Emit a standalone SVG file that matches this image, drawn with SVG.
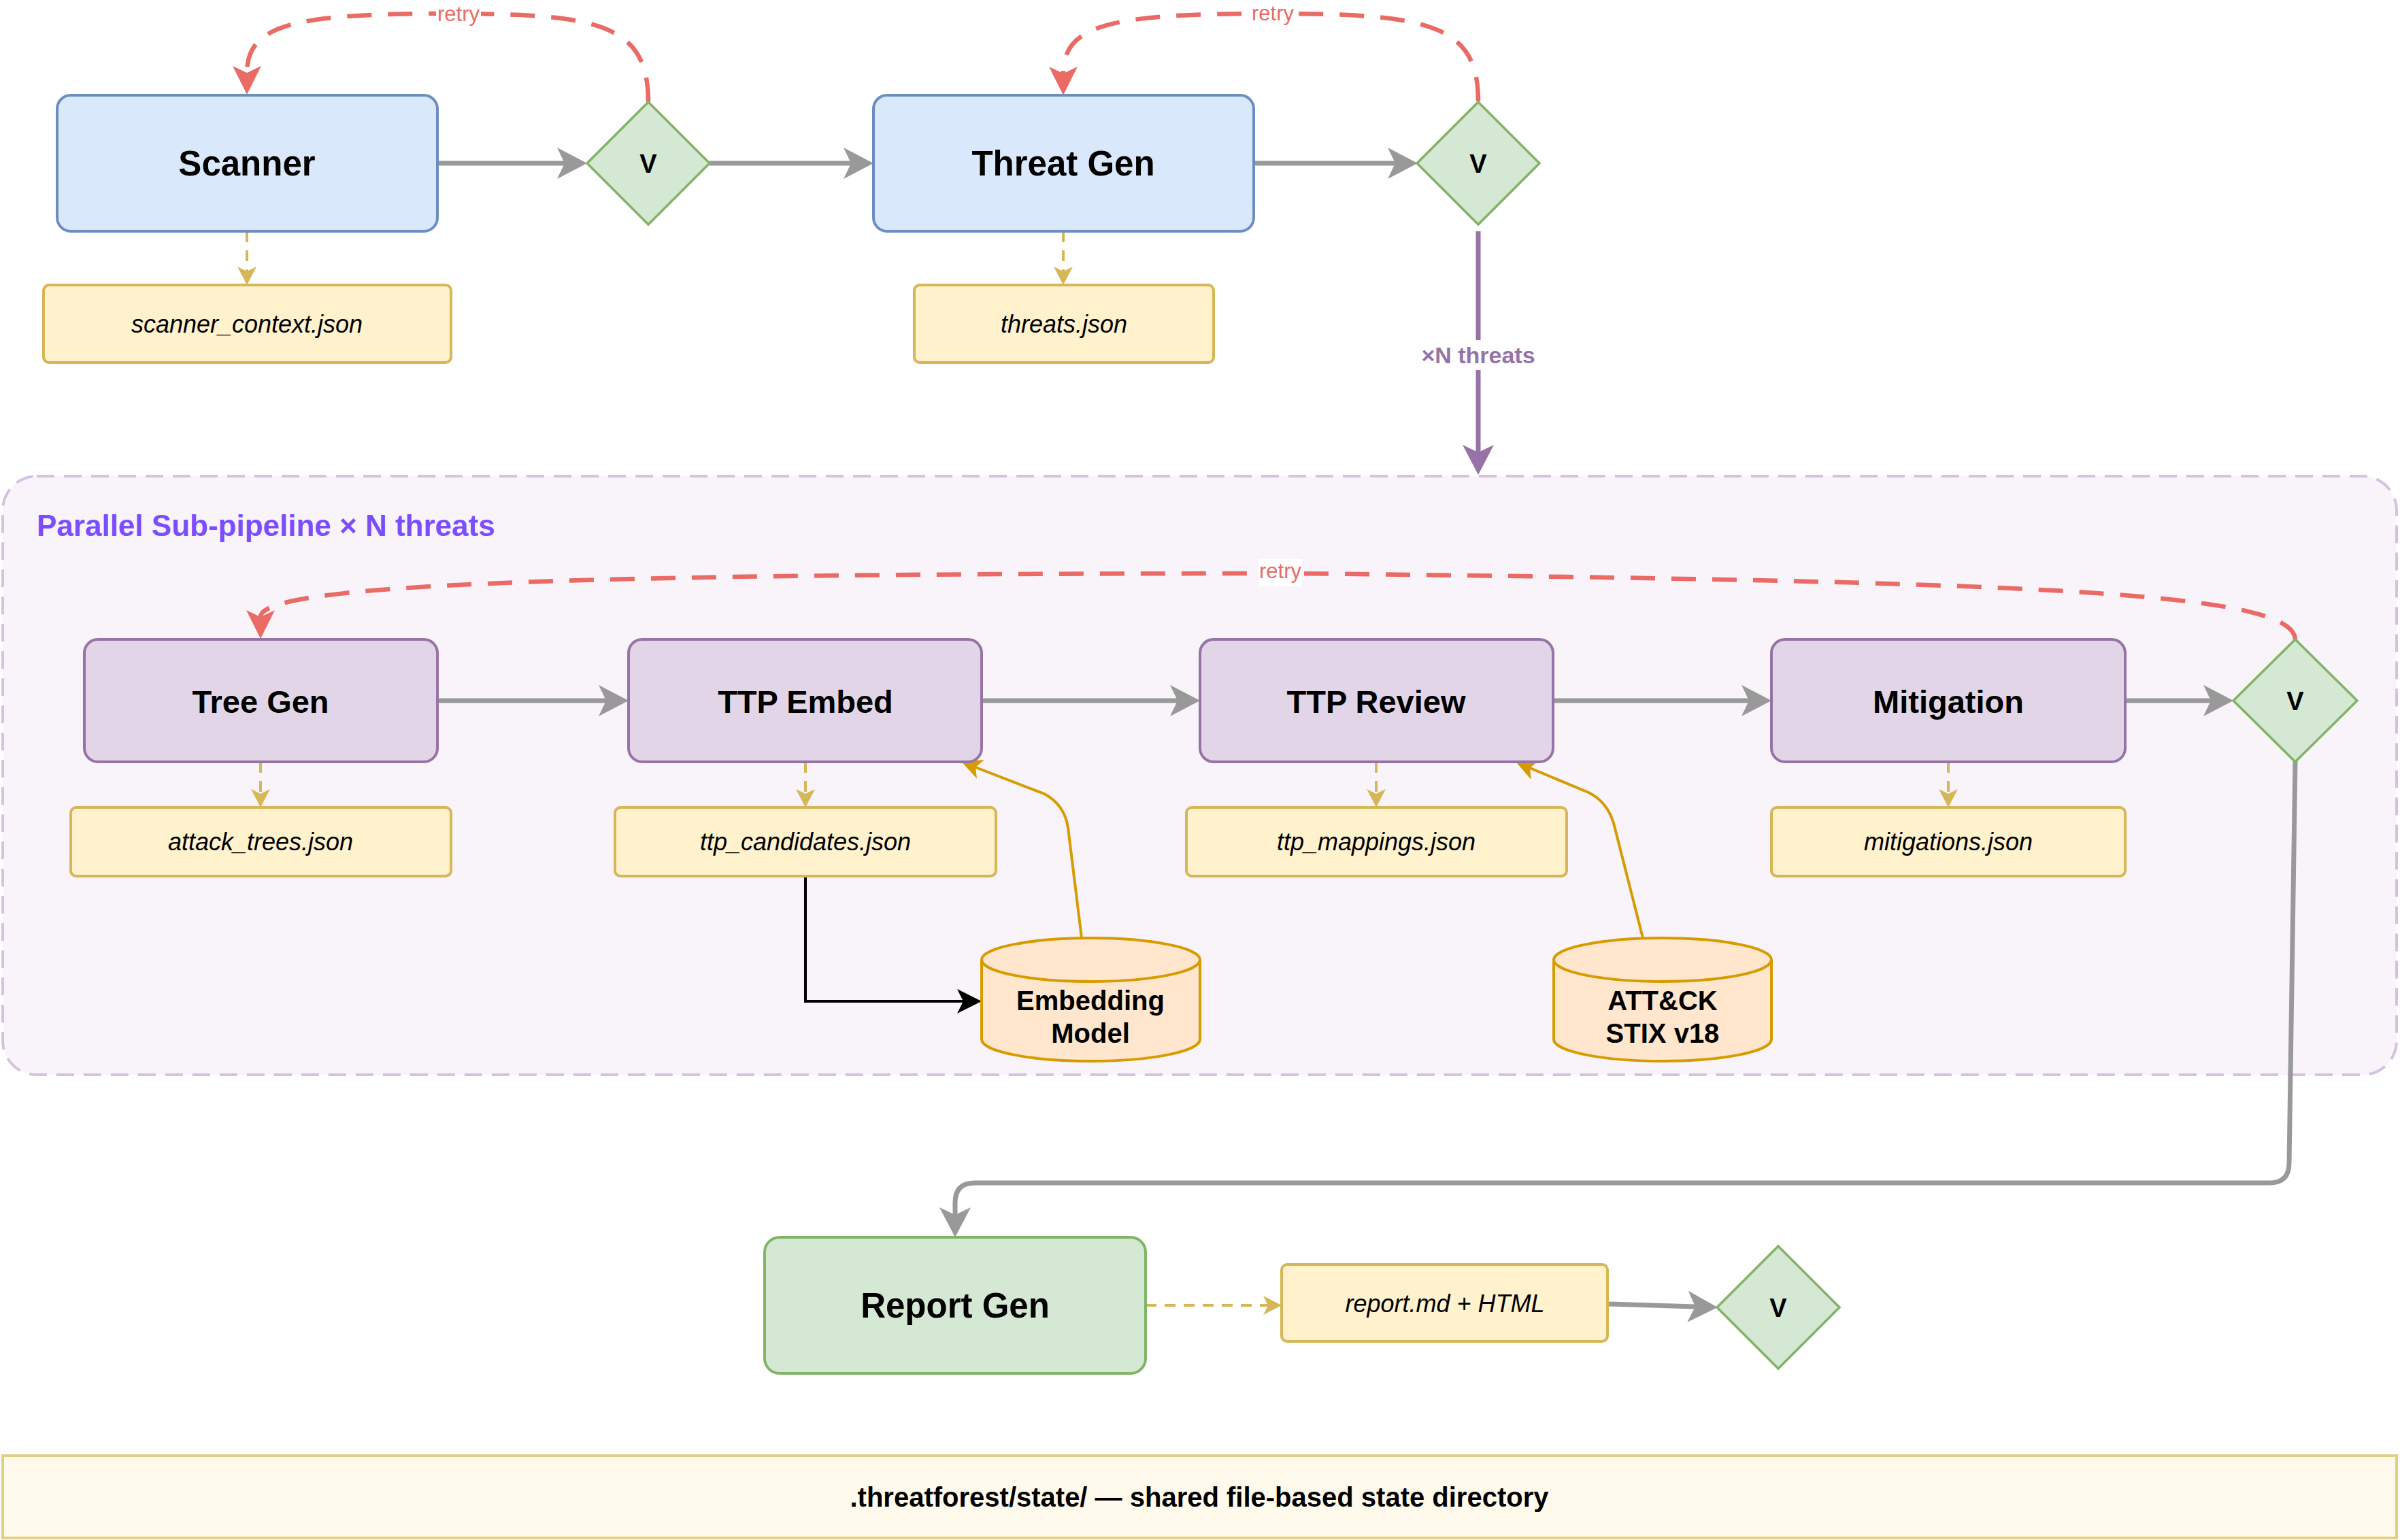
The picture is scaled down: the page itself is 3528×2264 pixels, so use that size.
<svg xmlns="http://www.w3.org/2000/svg" width="3528" height="2264" viewBox="0 0 3528 2264">
<style>
text{font-family:"Liberation Sans",Arial,Helvetica,sans-serif;text-anchor:middle;fill:#000}
.blue{fill:#dae8fc;stroke:#6c8ebf;stroke-width:4}
.purp{fill:#e1d5e7;stroke:#9673a6;stroke-width:4}
.file{fill:#fff2cc;stroke:#d6b656;stroke-width:4}
.green{fill:#d5e8d4;stroke:#82b366;stroke-width:4}
.dia{fill:#d5e8d4;stroke:#82b366;stroke-width:3.5}
.cyl{fill:#ffe6cc;stroke:#d79b00;stroke-width:4}
.big{font-size:51px;font-weight:bold}
.mid{font-size:47px;font-weight:bold}
.v{font-size:38px;font-weight:bold}
.fn{font-size:36px;font-style:italic}
.db{font-size:40px;font-weight:bold}
.retry{font-size:31px;fill:#ea6b66}
.gray{fill:none;stroke:#999999;stroke-width:7}
.red{fill:none;stroke:#ea6b66;stroke-width:6.5;stroke-dasharray:36 24}
.yel{fill:none;stroke:#d6b656;stroke-width:4;stroke-dasharray:16 12}
.org{fill:none;stroke:#d79b00;stroke-width:4}
</style>
<defs>
<marker id="ag" markerUnits="userSpaceOnUse" markerWidth="44" markerHeight="46" viewBox="0 0 44 46" refX="11" refY="23" orient="auto"><path d="M0,0 L44,23 L0,46 L11,23 z" fill="#999999"/></marker>
<marker id="ap" markerUnits="userSpaceOnUse" markerWidth="44" markerHeight="46" viewBox="0 0 44 46" refX="11" refY="23" orient="auto"><path d="M0,0 L44,23 L0,46 L11,23 z" fill="#9673a6"/></marker>
<marker id="ar" markerUnits="userSpaceOnUse" markerWidth="42" markerHeight="42" viewBox="0 0 42 42" refX="10" refY="21" orient="auto"><path d="M0,0 L42,21 L0,42 L10,21 z" fill="#ea6b66"/></marker>
<marker id="ay" markerUnits="userSpaceOnUse" markerWidth="27" markerHeight="28" viewBox="0 0 27 28" refX="7" refY="14" orient="auto"><path d="M0,0 L27,14 L0,28 L7,14 z" fill="#d6b656"/></marker>
<marker id="ab" markerUnits="userSpaceOnUse" markerWidth="36" markerHeight="36" viewBox="0 0 36 36" refX="9" refY="18" orient="auto"><path d="M0,0 L36,18 L0,36 L9,18 z" fill="#000000"/></marker>
<marker id="ao" markerUnits="userSpaceOnUse" markerWidth="30" markerHeight="30" viewBox="0 0 30 30" refX="8" refY="15" orient="auto"><path d="M0,0 L30,15 L0,30 L8,15 z" fill="#d79b00"/></marker>
</defs>
<rect width="3528" height="2264" fill="#ffffff"/>

<g id="container">
<rect x="4" y="700" width="3519" height="880" rx="50" fill="#f8f4fa" stroke="#d5c2e0" stroke-width="4" stroke-dasharray="26 14"/>
<text x="54" y="788" style="font-size:44px;font-weight:bold;fill:#7c4dff;text-anchor:start">Parallel Sub-pipeline × N threats</text>
</g>

<g id="state-bar">
<rect x="4" y="2140" width="3519" height="121" fill="#fffaeb" stroke="#e2cf85" stroke-width="4"/>
<text x="1763" y="2215" class="db">.threatforest/state/ — shared file-based state directory</text>
</g>

<g id="connectors">
<path class="gray" d="M643 240 L830 240" marker-end="url(#ag)"/>
<path class="gray" d="M1043 240 L1251 240" marker-end="url(#ag)"/>
<path class="gray" d="M1843 240 L2051 240" marker-end="url(#ag)"/>
<path fill="none" stroke="#9673a6" stroke-width="7" d="M2173 340 L2173 665" marker-end="url(#ap)"/>
<path class="red" d="M953 150 C953 35 880 20 658 20 C436 20 363 35 363 107" marker-end="url(#ar)"/>
<path class="red" d="M2173 149 C2173 35 2100 20 1868 20 C1636 20 1563 35 1563 108" marker-end="url(#ar)"/>
<path class="yel" d="M363 340 L363 399" marker-end="url(#ay)"/>
<path class="yel" d="M1563 340 L1563 399" marker-end="url(#ay)"/>
<path class="gray" d="M643 1030 L891 1030" marker-end="url(#ag)"/>
<path class="gray" d="M1443 1030 L1731 1030" marker-end="url(#ag)"/>
<path class="gray" d="M2283 1030 L2571 1030" marker-end="url(#ag)"/>
<path class="gray" d="M3124 1030 L3250 1030" marker-end="url(#ag)"/>
<path class="yel" d="M383 1120 L383 1167" marker-end="url(#ay)"/>
<path class="yel" d="M1184 1120 L1184 1167" marker-end="url(#ay)"/>
<path class="yel" d="M2023 1120 L2023 1167" marker-end="url(#ay)"/>
<path class="yel" d="M2864 1120 L2864 1167" marker-end="url(#ay)"/>
<path class="red" d="M3374 941 C3374 870 3000 855 1900 843 C800 843 383 860 383 907" marker-end="url(#ar)"/>
<path fill="none" stroke="#000000" stroke-width="4" d="M1184 1288 L1184 1472 L1416 1472" marker-end="url(#ab)"/>
<path class="org" d="M1590 1379 L1570 1217 Q1565 1183 1535 1167 L1434 1128" marker-end="url(#ao)"/>
<path class="org" d="M2415 1379 L2372 1210 Q2362 1178 2335 1165 L2249 1129" marker-end="url(#ao)"/>
<path class="gray" d="M3374 1119 L3365 1710 Q3365 1739 3336 1739 L1433 1739 Q1404 1739 1404 1768 L1404 1786" marker-end="url(#ag)"/>
<path class="yel" d="M1684 1919 L1864 1919" marker-end="url(#ay)"/>
<path class="gray" d="M2365 1917 L2492 1921" marker-end="url(#ag)"/>
<rect x="2085" y="500" width="176" height="44" fill="#ffffff"/>
<text x="2173" y="534" style="font-size:34px;font-weight:bold;fill:#9673a6">×N threats</text>
<rect x="641" y="4" width="66" height="36" fill="#ffffff"/>
<text x="674" y="31" class="retry">retry</text>
<rect x="1838" y="4" width="66" height="36" fill="#ffffff"/>
<text x="1871" y="30" class="retry">retry</text>
<rect x="1850" y="822" width="64" height="40" fill="#ffffff"/>
<text x="1882" y="850" class="retry">retry</text>
</g>

<g id="scanner"><rect class="blue" x="84" y="140" width="559" height="200" rx="20"/><text x="363" y="258" class="big">Scanner</text></g>
<g id="v1"><polygon class="dia" points="953,150 1043,240 953,330 863,240"/><text x="953" y="254" class="v">V</text></g>
<g id="threat-gen"><rect class="blue" x="1284" y="140" width="559" height="200" rx="20"/><text x="1563" y="258" class="big">Threat Gen</text></g>
<g id="v2"><polygon class="dia" points="2173,150 2263,240 2173,330 2083,240"/><text x="2173" y="254" class="v">V</text></g>
<g id="scanner-context"><rect class="file" x="64" y="419" width="599" height="114" rx="8"/><text x="363" y="489" class="fn">scanner_context.json</text></g>
<g id="threats-json"><rect class="file" x="1344" y="419" width="440" height="114" rx="8"/><text x="1564" y="489" class="fn">threats.json</text></g>

<g id="tree-gen"><rect class="purp" x="124" y="940" width="519" height="180" rx="20"/><text x="383" y="1048" class="mid">Tree Gen</text></g>
<g id="ttp-embed"><rect class="purp" x="924" y="940" width="519" height="180" rx="20"/><text x="1184" y="1048" class="mid">TTP Embed</text></g>
<g id="ttp-review"><rect class="purp" x="1764" y="940" width="519" height="180" rx="20"/><text x="2023" y="1048" class="mid">TTP Review</text></g>
<g id="mitigation"><rect class="purp" x="2604" y="940" width="520" height="180" rx="20"/><text x="2864" y="1048" class="mid">Mitigation</text></g>
<g id="v3"><polygon class="dia" points="3374,940 3465,1030 3374,1120 3283,1030"/><text x="3374" y="1044" class="v">V</text></g>

<g id="attack-trees"><rect class="file" x="104" y="1187" width="559" height="101" rx="8"/><text x="383" y="1250" class="fn">attack_trees.json</text></g>
<g id="ttp-candidates"><rect class="file" x="904" y="1187" width="560" height="101" rx="8"/><text x="1184" y="1250" class="fn">ttp_candidates.json</text></g>
<g id="ttp-mappings"><rect class="file" x="1744" y="1187" width="559" height="101" rx="8"/><text x="2023" y="1250" class="fn">ttp_mappings.json</text></g>
<g id="mitigations-json"><rect class="file" x="2604" y="1187" width="520" height="101" rx="8"/><text x="2864" y="1250" class="fn">mitigations.json</text></g>

<g id="embedding-model">
<path class="cyl" d="M1443 1411 A160.5 32 0 0 1 1764 1411 L1764 1528 A160.5 32 0 0 1 1443 1528 Z"/>
<path class="cyl" fill="none" d="M1443 1411 A160.5 32 0 0 0 1764 1411"/>
<text x="1603" y="1485" class="db">Embedding</text><text x="1603" y="1533" class="db">Model</text>
</g>
<g id="attck">
<path class="cyl" d="M2284 1411 A160 32 0 0 1 2604 1411 L2604 1528 A160 32 0 0 1 2284 1528 Z"/>
<path class="cyl" fill="none" d="M2284 1411 A160 32 0 0 0 2604 1411"/>
<text x="2444" y="1485" class="db">ATT&amp;CK</text><text x="2444" y="1533" class="db">STIX v18</text>
</g>

<g id="report-gen"><rect class="green" x="1124" y="1819" width="560" height="200" rx="22"/><text x="1404" y="1937" class="big">Report Gen</text></g>
<g id="report-md"><rect class="file" x="1884" y="1859" width="479" height="113" rx="8"/><text x="2124" y="1929" class="fn">report.md + HTML</text></g>
<g id="v4"><polygon class="dia" points="2614,1832 2704,1922 2614,2012 2524,1922"/><text x="2614" y="1936" class="v">V</text></g>
</svg>
